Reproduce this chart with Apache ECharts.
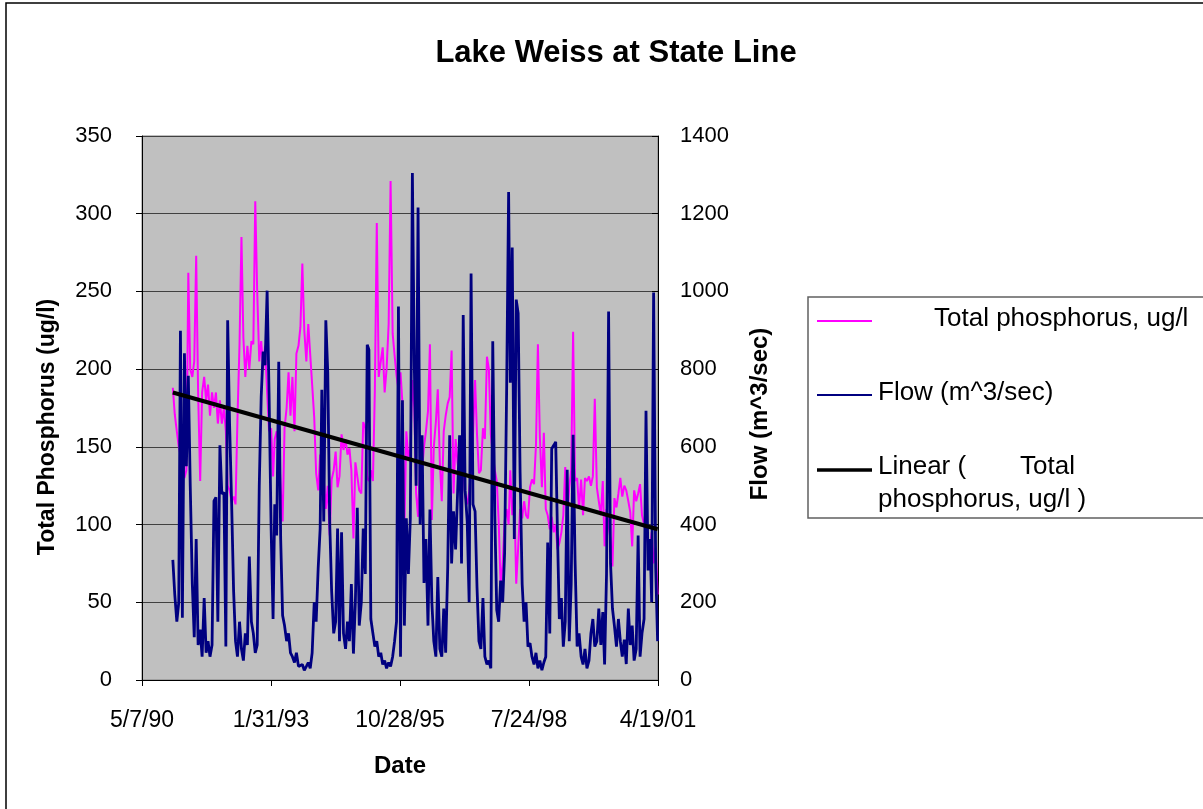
<!DOCTYPE html>
<html>
<head>
<meta charset="utf-8">
<script src="https://cdn.jsdelivr.net/npm/echarts@6/dist/echarts.min.js"></script>
<style>
html,body{margin:0;padding:0;background:#fff;}
#chart{width:1203px;height:809px;}
</style>
</head>
<body>
<div id="chart"></div>
<script>
// ---- data (semi-monthly samples, first = 1991-01-01) ----
const firstSample = [1991, 1];          // year, month of first sample
const samplesPerMonth = [1, 16];        // sample days in each month
const phosphorus = [
188,171,160,150,145,140,130,135,262,200,
195,205,273,185,128,185,195,180,190,170,
185,175,185,165,180,165,175,160,125,122,
115,118,113,168,216,285,220,195,215,200,
218,
216,308,250,205,218,200,215,185,160,
162,131,155,160,150,124,102,162,175,198,
170,195,160,210,215,227,268,225,205,229,
228,190,169,133,122,145,140,130,110,125,
93,129,135,
147,124,131,158,148,155,145,
149,135,91,140,131,122,120,166,162,130,
128,135,128,186,294,195,205,214,185,200,
229,321,223,209,196,187,198,178,97,160,
142,150,193,175,
120,105,140,135,150,160,
173,216,103,150,166,187,140,115,160,170,
178,182,212,120,155,140,130,125,140,118,
113,121,135,158,193,158,133,135,162,155,
208,200,158,145,135,128,
102,61,75,102,
110,100,135,106,120,62,85,110,104,115,
106,104,124,129,126,151,216,157,124,159,
110,106,97,105,95,100,84,88,95,106,
137,104,124,135,224,128,130,110,
129,106,
130,128,131,125,131,181,124,115,106,128,
86,110,100,90,73,117,111,120,130,118,
125,122,115,108,86,122,115,120,126,106,
100,95,88,84,95,75,85,55
];
const flow = [
309,220,150,200,899,160,841,550,783,500,
247,110,363,90,130,60,211,70,100,60,
90,461,470,150,604,479,483,86,926,658,
452,230,100,60,150,80,50,120,90,318,
150,
120,70,90,500,729,845,810,1002,738,
390,157,452,372,819,363,166,140,100,120,
70,60,45,70,35,30,40,25,35,45,
30,70,200,150,290,390,747,408,926,792,
408,229,120,
150,390,100,380,120,80,150,
100,247,68,200,443,140,200,390,273,863,
850,157,120,86,100,60,70,40,50,30,
45,35,60,100,150,961,60,720,140,416,
273,416,1305,810,
500,1216,400,630,250,363,
140,439,200,100,60,265,80,60,184,70,
291,630,300,434,336,479,630,300,939,488,
408,200,1046,452,434,238,100,80,211,60,
40,50,30,872,425,180,
150,256,200,327,
756,1256,765,1113,363,979,944,533,247,150,
200,86,95,60,40,70,30,50,25,45,
60,354,120,595,604,613,390,157,211,86,
150,541,100,247,631,309,86,120,
60,40,
80,30,50,120,157,86,100,184,90,175,
40,273,948,300,184,140,86,157,100,60,
104,41,184,90,140,50,80,372,60,120,
157,693,282,363,200,997,291,100
];
const trendEnds = [185, 97];            // linear trend at first and last sample
const xTicks = [33000, 37000, 1000];    // Excel serial day min, max, step
const leftTicks = [0, 350, 50];
const rightTicks = [0, 1400, 200];

// ---- helpers ----
const EPOCH = Date.UTC(1899, 11, 30);
function serial(y, m, d) { return (Date.UTC(y, m - 1, d) - EPOCH) / 86400000; }
function fmt(v) {
  const dt = new Date(EPOCH + v * 86400000);
  const yy = String(dt.getUTCFullYear() % 100).padStart(2, '0');
  return (dt.getUTCMonth() + 1) + '/' + dt.getUTCDate() + '/' + yy;
}
const dates = [];
{
  let y = firstSample[0], m = firstSample[1];
  while (dates.length < phosphorus.length) {
    for (const d of samplesPerMonth) {
      if (dates.length < phosphorus.length) dates.push(serial(y, m, d));
    }
    m++; if (m > 12) { m = 1; y++; }
  }
}
const pData = phosphorus.map((v, i) => [dates[i], v]);
const fData = flow.map((v, i) => [dates[i], v]);
const tData = [[dates[0], trendEnds[0]], [dates[dates.length - 1], trendEnds[1]]];

const FONT = 'Liberation Sans, Arial, sans-serif';
const TICK = 22, XTICK = 23, AXT = 24, LEG = 26;
const chart = echarts.init(document.getElementById('chart'), null, {renderer: 'canvas'});
chart.setOption({
  backgroundColor: '#fff',
  animation: false,
  title: {
    text: 'Lake Weiss at State Line',
    left: 611, top: 33, textAlign: 'center',
    textStyle: {fontFamily: FONT, fontWeight: 'bold', fontSize: 31, color: '#000'}
  },
  grid: {
    left: 142, right: 545, top: 136, bottom: 129,
    show: true, backgroundColor: '#C0C0C0', borderColor: '#808080', borderWidth: 1
  },
  xAxis: {
    type: 'value', min: xTicks[0], max: xTicks[1], interval: xTicks[2],
    axisLine: {show: true, onZero: false, lineStyle: {color: '#000', width: 1}},
    axisTick: {show: true, inside: false, length: 6, lineStyle: {color: '#000'}},
    axisLabel: {formatter: fmt, fontFamily: FONT, fontSize: XTICK, color: '#000', margin: 29},
    splitLine: {show: false}
  },
  yAxis: [{
    type: 'value', min: leftTicks[0], max: leftTicks[1], interval: leftTicks[2],
    axisLine: {show: true, lineStyle: {color: '#000', width: 1}},
    axisTick: {show: true, length: 6, lineStyle: {color: '#000'}},
    axisLabel: {fontFamily: FONT, fontSize: TICK, color: '#000', margin: 30},
    splitLine: {show: true, lineStyle: {color: '#404040', width: 1}}
  }, {
    type: 'value', min: rightTicks[0], max: rightTicks[1], interval: rightTicks[2],
    position: 'right',
    axisLine: {show: true, lineStyle: {color: '#000', width: 1}},
    axisTick: {show: true, inside: true, length: 6, lineStyle: {color: '#000'}},
    axisLabel: {formatter: v => String(v), fontFamily: FONT, fontSize: TICK, color: '#000', margin: 22},
    splitLine: {show: false}
  }],
  series: [{
    name: 'Total phosphorus, ug/l', type: 'line', yAxisIndex: 0, data: pData,
    showSymbol: false, lineStyle: {color: '#FF00FF', width: 2}, z: 2
  }, {
    name: 'Flow (m^3/sec)', type: 'line', yAxisIndex: 1, data: fData,
    showSymbol: false, lineStyle: {color: '#000080', width: 2.8}, z: 3
  }, {
    name: 'Linear (Total phosphorus, ug/l)', type: 'line', yAxisIndex: 0, data: tData,
    showSymbol: false, lineStyle: {color: '#000', width: 4}, z: 4
  }],
  graphic: [
    {type: 'rect', z: 0, silent: true,
     shape: {x: 6, y: 3, width: 1260, height: 860},
     style: {fill: 'none', stroke: '#000', lineWidth: 1.5}},
    {type: 'text', z: 50, x: 48, y: 427, rotation: Math.PI / 2,
     style: {text: 'Total Phosphorus (ug/l)', font: 'bold 23px ' + FONT, fill: '#000', align: 'center', verticalAlign: 'middle'}},
    {type: 'text', z: 50, x: 760, y: 414, rotation: Math.PI / 2,
     style: {text: 'Flow (m^3/sec)', font: 'bold ' + AXT + 'px ' + FONT, fill: '#000', align: 'center', verticalAlign: 'middle'}},
    {type: 'text', z: 50, x: 400, y: 766,
     style: {text: 'Date', font: 'bold ' + AXT + 'px ' + FONT, fill: '#000', align: 'center', verticalAlign: 'middle'}},
    {type: 'rect', z: 100,
     shape: {x: 808, y: 297, width: 420, height: 221},
     style: {fill: '#fff', stroke: '#606060', lineWidth: 1.5}},
    {type: 'line', z: 101, shape: {x1: 817, y1: 321, x2: 872, y2: 321}, style: {stroke: '#FF00FF', lineWidth: 2}},
    {type: 'text', z: 101, style: {x: 934, y: 319, text: 'Total phosphorus, ug/l', font: LEG + 'px ' + FONT, fill: '#000', verticalAlign: 'middle'}},
    {type: 'line', z: 101, shape: {x1: 817, y1: 395, x2: 872, y2: 395}, style: {stroke: '#000080', lineWidth: 2}},
    {type: 'text', z: 101, style: {x: 878, y: 393, text: 'Flow (m^3/sec)', font: LEG + 'px ' + FONT, fill: '#000', verticalAlign: 'middle'}},
    {type: 'line', z: 101, shape: {x1: 817, y1: 470, x2: 872, y2: 470}, style: {stroke: '#000', lineWidth: 3.5}},
    {type: 'text', z: 101, style: {x: 878, y: 467, text: 'Linear (', font: LEG + 'px ' + FONT, fill: '#000', verticalAlign: 'middle'}},
    {type: 'text', z: 101, style: {x: 1020, y: 467, text: 'Total', font: LEG + 'px ' + FONT, fill: '#000', verticalAlign: 'middle'}},
    {type: 'text', z: 101, style: {x: 878, y: 500, text: 'phosphorus, ug/l )', font: LEG + 'px ' + FONT, fill: '#000', verticalAlign: 'middle'}}
  ]
});
</script>
</body>
</html>
